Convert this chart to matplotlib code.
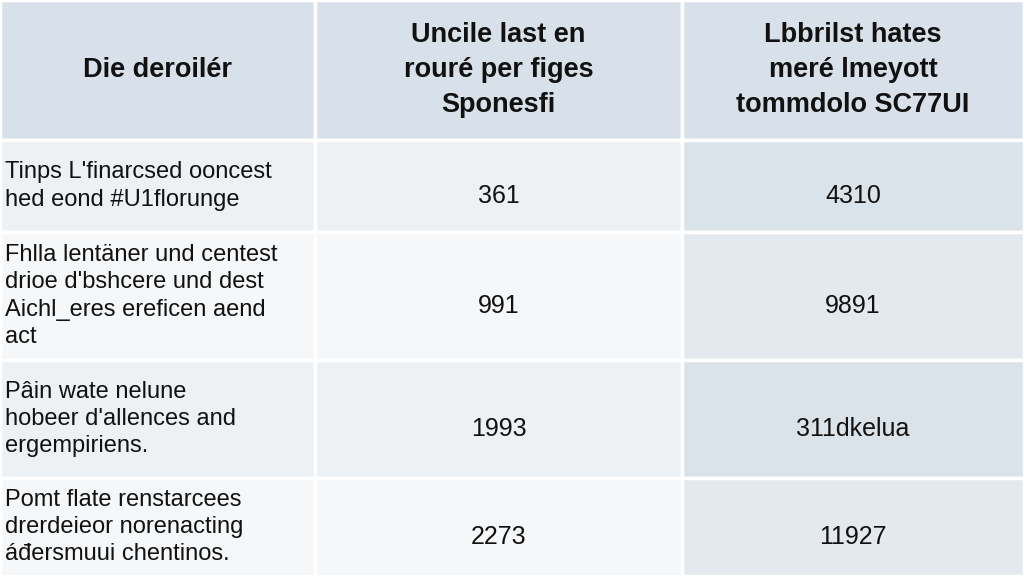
import matplotlib
matplotlib.use("Agg")
import matplotlib.pyplot as plt
from matplotlib.patches import Rectangle

headers = ["Die deroilér", "Uncile last en\nrouré per figes\nSponesfi", "Lbbrilst hates\nmeré lmeyott\ntommdolo SC77UI"]
row_labels = ["Tinps L'finarcsed ooncest\nhed eond #U1florunge",
              "Fhlla lentäner und centest\ndrioe d'bshcere und dest\nAichl_eres ereficen aend\nact",
              "Pâin wate nelune\nhobeer d'allences and\nergempiriens.",
              "Pomt flate renstarcees\ndrerdeieor norenacting\náđersmuui chentinos."]
col2_values = ["361", "991", "1993", "2273"]
col3_values = ["4310", "9891", "311dkelua", "11927"]

col_edges = [0, 315, 682, 1024]
row_edges = [0, 140, 232, 360, 478, 576]

fig = plt.figure(figsize=(10.24, 5.76), dpi=100)
ax = fig.add_axes([0, 0, 1, 1])
ax.set_xlim(0, 1024); ax.set_ylim(576, 0); ax.axis("off")

for r in range(5):
    for c in range(3):
        x0, x1 = col_edges[c], col_edges[c+1]
        y0, y1 = row_edges[r], row_edges[r+1]
        if r == 0:
            col = "#d8e1e9"
        elif c == 2:
            col = "#dbe3ea" if r % 2 == 1 else "#e3e9ee"
        else:
            col = "#eef1f4" if r % 2 == 1 else "#f5f7f9"
        ax.add_patch(Rectangle((x0, y0), x1-x0, y1-y0, facecolor=col, edgecolor="white", linewidth=2.5))

for c in range(3):
    cx = (col_edges[c] + col_edges[c+1]) / 2
    ax.text(cx, 70, headers[c], ha="center", va="center", fontsize=19.5, fontweight="bold",
            color="#111111", linespacing=1.45, family="Liberation Sans")

for r in range(4):
    cy = (row_edges[r+1] + row_edges[r+2]) / 2
    ax.text(5, cy, row_labels[r], ha="left", va="center", fontsize=17, color="#111111",
            linespacing=1.3, family="Liberation Sans")
    ax.text((col_edges[1]+col_edges[2])/2, cy + 10, col2_values[r], ha="center", va="center",
            fontsize=18, color="#111111", family="Liberation Sans")
    ax.text((col_edges[2]+col_edges[3])/2, cy + 10, col3_values[r], ha="center", va="center",
            fontsize=18, color="#111111", family="Liberation Sans")

fig.savefig("out.png", dpi=100)
